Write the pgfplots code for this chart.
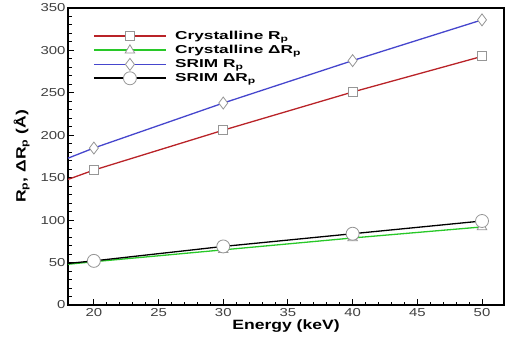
\documentclass[border=0pt]{standalone}
\usepackage{fontspec}
\setmainfont{Liberation Sans}[FakeStretch=1.3]
\newfontfamily\legfont{Liberation Sans}[FakeStretch=1.5]
\usepackage{pgfplots}
\pgfplotsset{compat=1.18}
\definecolor{cred}{RGB}{185,35,40}
\definecolor{cgreen}{RGB}{40,200,40}
\definecolor{cblue}{RGB}{70,70,205}
\definecolor{cmark}{RGB}{150,150,150}
\begin{document}
\begin{tikzpicture}
\begin{axis}[
  scale only axis,
  width=436pt, height=297pt,
  xmin=18, xmax=51.7, ymin=0, ymax=350,
  xtick={20,25,...,50}, ytick={0,50,...,350},
  minor x tick num=4, minor y tick num=4,
  tick pos=left, tick align=inside,
  major tick length=6pt, minor tick length=3.5pt,
  every tick/.style={black, line width=1pt},
  axis line style={line width=1.4pt},
  /pgf/number format/assume math mode=true,
  ticklabel style={font=\fontsize{11.5}{13}\selectfont, text=black!75},
  yticklabel style={xshift=1pt},
  xlabel={\bfseries Energy (keV)},
  ylabel={\bfseries R\textsubscript{p}, ΔR\textsubscript{p} (Å)},
  label style={font=\fontsize{13.5}{15}\selectfont},
  xlabel style={yshift=4pt},
  ylabel style={yshift=4pt},
  legend style={at={(0.05,0.937)}, anchor=north west, draw=none, fill=none,
    font=\legfont\fontsize{11.5}{13}\selectfont\bfseries, row sep=0pt,
    nodes={inner ysep=2.2pt},
    /tikz/every odd column/.append style={column sep=6pt}},
  legend cell align=left,
  legend image code/.code={\draw[line width=1.6pt,mark repeat=2,mark phase=2] plot coordinates {(0cm,0cm) (1.27cm,0cm) (2.55cm,0cm)};},
  every axis plot/.append style={line width=1.3pt, mark options={draw=cmark, fill=white, line width=0.8pt, solid}},
]
\addplot[cred, forget plot] coordinates {(18,148) (20,159)};
\addplot[cgreen, forget plot] coordinates {(18,48) (20,51)};
\addplot[cblue, forget plot] coordinates {(18,173) (20,185)};
\addplot[black, forget plot] coordinates {(18,49) (20,52)};
\addplot[cred, mark=square*, mark size=4.5pt] coordinates {(20,159) (30,206) (40,251) (50,293)};
\addlegendentry{Crystalline R\textsubscript{p}}
\addplot[cgreen, mark=triangle*, mark size=5.5pt] coordinates {(20,51) (30,65) (40,79) (50,92)};
\addlegendentry{Crystalline ΔR\textsubscript{p}}
\addplot[cblue, mark=diamond*, mark size=6pt] coordinates {(20,185) (30,238) (40,288) (50,336)};
\addlegendentry{SRIM R\textsubscript{p}}
\addplot[black, mark=*, mark size=6.5pt] coordinates {(20,52) (30,69) (40,84) (50,99)};
\addlegendentry{SRIM ΔR\textsubscript{p}}
\end{axis}
\path (current axis.south west) ++(-68pt,-32pt) (current axis.north east) ++(6pt,8pt);
\end{tikzpicture}
\end{document}
